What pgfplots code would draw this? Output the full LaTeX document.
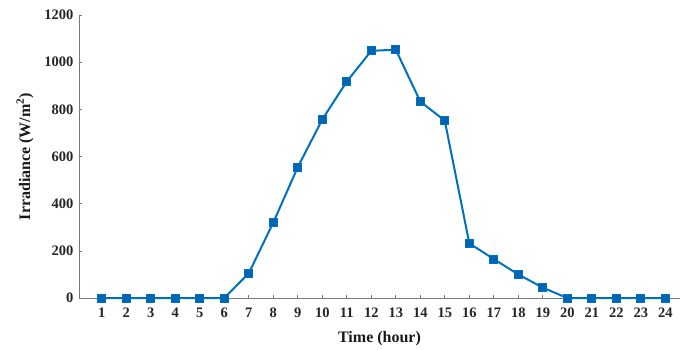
\documentclass[border=0pt]{standalone}
\usepackage{pgfplots}
\pgfplotsset{compat=1.18}
\usepackage{fontspec}
\setmainfont{Liberation Serif}
\definecolor{lineblue}{RGB}{0,114,189}
\definecolor{markblue}{RGB}{0,100,180}
\definecolor{axisgray}{RGB}{120,120,120}
\begin{document}
\begin{tikzpicture}
\begin{axis}[
  scale only axis,
  width=601pt, height=283pt,
  xmin=0.07, xmax=24.6,
  ymin=0, ymax=1200,
  xtick={1,...,24},
  ytick={0,200,...,1200},
  axis lines*=left,
  axis line style={axisgray, line width=0.7pt},
  tick style={axisgray, line width=0.6pt},
  tick align=inside,
  major tick length=3.5pt,
  /pgf/number format/assume math mode=true,
  /pgf/number format/1000 sep={},
  ticklabel style={font=\bfseries\fontsize{14.5}{16}\selectfont, text=black!85},
  xticklabel style={yshift=-6pt},
  yticklabel style={xshift=-2pt},
  xlabel={\textbf{Time (hour)}},
  ylabel={\textbf{Irradiance (W/m$^{\mathbf 2}$)}},
  label style={font=\bfseries\fontsize{16}{18}\selectfont, text=black!90},
  xlabel style={at={(axis description cs:0.5,0)}, anchor=center, yshift=-41pt},
  ylabel style={at={(axis description cs:-0.0899,0.5)}, anchor=center},
  clip=false,
]
\addplot[color=lineblue, line width=2pt, mark=square*, mark size=4pt,
  mark options={fill=markblue, draw=lineblue, line width=0.8pt}]
  coordinates {
  (1,0) (2,0) (3,0) (4,0) (5,0) (6,0) (7,105) (8,320) (9,555)
  (10,757) (11,918) (12,1048) (13,1053) (14,833) (15,752)
  (16,232) (17,165) (18,100) (19,44) (20,0) (21,0) (22,0)
  (23,0) (24,0)
  };
\end{axis}
\pgfresetboundingbox
\path[use as bounding box] (-79pt,-51pt) rectangle (602pt,298pt);
\end{tikzpicture}
\end{document}
